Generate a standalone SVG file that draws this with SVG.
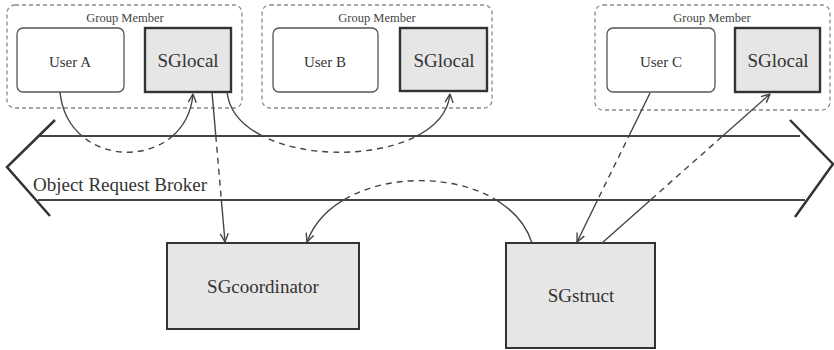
<svg xmlns="http://www.w3.org/2000/svg" xmlns:xlink="http://www.w3.org/1999/xlink" width="834" height="350" viewBox="0 0 834 350">
<style>
.grp{fill:none;stroke:#8a8a8a;stroke-width:1.3;stroke-dasharray:4,3}
.grpt{font-family:"Liberation Serif",serif;font-size:12.5px;fill:#444;text-anchor:middle}
.user{fill:#fff;stroke:#555;stroke-width:1.3}
.usert{font-family:"Liberation Serif",serif;font-size:15px;fill:#333;text-anchor:middle}
.sg{fill:#e6e6e6;stroke:#333;stroke-width:2.4}
.sgt{font-family:"Liberation Serif",serif;font-size:19px;fill:#333;text-anchor:middle}
.bus{fill:none;stroke:#444;stroke-width:2}
.chev{fill:none;stroke:#333;stroke-width:2.5}
.bust{font-family:"Liberation Serif",serif;font-size:19px;fill:#333}
.solid{fill:none;stroke:#444;stroke-width:1.4}
.dash{fill:none;stroke:#444;stroke-width:1.4;stroke-dasharray:6,5}
</style>
<defs>
<marker id="arr" viewBox="0 0 10 10" refX="9.5" refY="5" markerWidth="10" markerHeight="10" markerUnits="userSpaceOnUse" orient="auto">
<path d="M1,1 L9.5,5 L1,9" fill="none" stroke="#444" stroke-width="1.4"/>
</marker>
<clipPath id="outside"><rect x="0" y="0" width="834" height="136"/><rect x="0" y="200" width="834" height="150"/></clipPath>
<clipPath id="inside"><rect x="0" y="136" width="834" height="64"/></clipPath>
<path id="p1" d="M60,92 C68,172 186,172 193,94"/>
<path id="p2" d="M227,92 C236,172 442,172 450,94"/>
<path id="p3" d="M212,92 L225,242"/>
<path id="p4" d="M532,243 C505,160 337,160 307,242"/>
<path id="p5" d="M650,93 L577,242"/>
<path id="p6" d="M602,243 L770,94"/>
</defs>
<rect width="834" height="350" fill="#fff"/>

<g id="broker">
<line class="bus" x1="40" y1="136" x2="800" y2="136"/>
<line class="bus" x1="38" y1="200" x2="805" y2="200"/>
<polyline class="chev" points="55,120 7,167 50,216"/>
<polyline class="chev" points="790,120 833,164 795,217"/>
<text class="bust" x="33" y="191">Object Request Broker</text>
</g>

<g id="member-a">
<rect class="grp" x="7" y="5" width="235" height="103" rx="8"/>
<text class="grpt" x="125" y="22">Group Member</text>
</g>
<g id="user-a">
<rect class="user" x="17" y="28" width="107" height="64" rx="6"/>
<text class="usert" x="70" y="67">User A</text>
</g>
<g id="sglocal-a">
<rect class="sg" x="145" y="28" width="86" height="64"/>
<text class="sgt" x="188" y="67">SGlocal</text>
</g>

<g id="member-b">
<rect class="grp" x="262" y="5" width="230" height="103" rx="8"/>
<text class="grpt" x="377" y="22">Group Member</text>
</g>
<g id="user-b">
<rect class="user" x="273" y="28" width="105" height="64" rx="6"/>
<text class="usert" x="325" y="67">User B</text>
</g>
<g id="sglocal-b">
<rect class="sg" x="400" y="28" width="87" height="63"/>
<text class="sgt" x="444" y="67">SGlocal</text>
</g>

<g id="member-c">
<rect class="grp" x="595" y="5" width="235" height="105" rx="8"/>
<text class="grpt" x="712" y="22">Group Member</text>
</g>
<g id="user-c">
<rect class="user" x="607" y="28" width="108" height="64" rx="6"/>
<text class="usert" x="661" y="67">User C</text>
</g>
<g id="sglocal-c">
<rect class="sg" x="735" y="28" width="85" height="64"/>
<text class="sgt" x="778" y="67">SGlocal</text>
</g>

<g id="sgcoordinator">
<rect class="sg" x="167" y="243" width="192" height="86" style="stroke-width:2"/>
<text class="sgt" x="263" y="293">SGcoordinator</text>
</g>
<g id="sgstruct">
<rect class="sg" x="506" y="243" width="149" height="105" style="stroke-width:2"/>
<text class="sgt" x="581" y="302">SGstruct</text>
</g>

<g id="connectors">
<use xlink:href="#p1" href="#p1" class="solid" clip-path="url(#outside)" marker-end="url(#arr)"/>
<use xlink:href="#p1" href="#p1" class="dash" clip-path="url(#inside)"/>
<use xlink:href="#p2" href="#p2" class="solid" clip-path="url(#outside)" marker-end="url(#arr)"/>
<use xlink:href="#p2" href="#p2" class="dash" clip-path="url(#inside)"/>
<use xlink:href="#p3" href="#p3" class="solid" clip-path="url(#outside)" marker-end="url(#arr)"/>
<use xlink:href="#p3" href="#p3" class="dash" clip-path="url(#inside)"/>
<use xlink:href="#p4" href="#p4" class="solid" clip-path="url(#outside)" marker-end="url(#arr)"/>
<use xlink:href="#p4" href="#p4" class="dash" clip-path="url(#inside)"/>
<use xlink:href="#p5" href="#p5" class="solid" clip-path="url(#outside)" marker-end="url(#arr)"/>
<use xlink:href="#p5" href="#p5" class="dash" clip-path="url(#inside)"/>
<use xlink:href="#p6" href="#p6" class="solid" clip-path="url(#outside)" marker-end="url(#arr)"/>
<use xlink:href="#p6" href="#p6" class="dash" clip-path="url(#inside)"/>
</g>
</svg>
